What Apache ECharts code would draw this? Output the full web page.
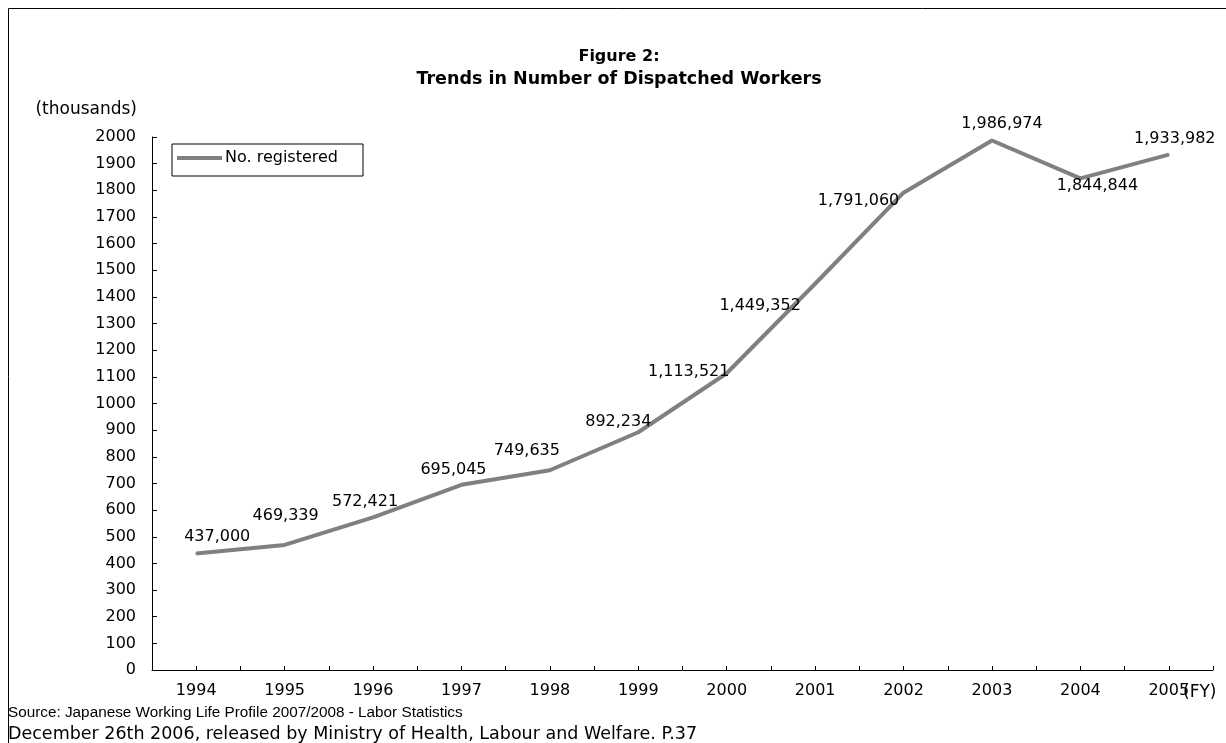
<!DOCTYPE html>
<html>
<head>
<meta charset="utf-8">
<script src="https://cdn.jsdelivr.net/npm/echarts@6/dist/echarts.min.js"></script>
<style>
html,body{margin:0;padding:0;background:#fff;}
#chart{width:1226px;height:743px;}
</style>
</head>
<body>
<div id="chart"></div>
<script>
// ---- data ----
const years = ['1994','1995','1996','1997','1998','1999','2000','2001','2002','2003','2004','2005'];
const registered = [437.000, 469.339, 572.421, 695.045, 749.635, 892.234, 1113.521, 1449.352, 1791.060, 1986.974, 1844.844, 1933.982];
const seriesName = 'No. registered';
const titleLines = ['Figure 2:', 'Trends in Number of Dispatched Workers'];
const yUnit = '(thousands)';
const xUnit = '(FY)';
const sourceLines = [
  'Source: Japanese Working Life Profile 2007/2008 - Labor Statistics',
  'December 26th 2006, released by Ministry of Health, Labour and Welfare. P.37'
];
// label placement (pixel offsets from each point)
const labelOffsets = [[21,-17],[1,-29],[-8,-16],[-8,-15],[-23,-19],[-20,-10],[-38,-1],[-55,22],[-45,8],[10,-17],[17,7],[6,-16]];

const FONT = 'DejaVu Sans';
const chart = echarts.init(document.getElementById('chart'), null, {renderer:'canvas'});
const tickStyle = {show:true, inside:true, length:4, lineStyle:{color:'#000', width:1}};

chart.setOption({
  animation:false,
  backgroundColor:'#fff',
  textStyle:{fontFamily:FONT},
  grid:{left:152, right:13, top:137, bottom:73, containLabel:false},
  legend:{
    data:[seriesName], left:172, top:144,
    orient:'horizontal',
    padding:[6,25,10,5],
    borderColor:'#000', borderWidth:1, borderRadius:0,
    itemWidth:45, itemHeight:4, icon:'rect', itemGap:5,
    textStyle:{fontFamily:FONT, fontSize:16, color:'#000', padding:[0,0,0,-2]}
  },
  xAxis:[{
    type:'category', data:years, boundaryGap:true, position:'bottom',
    axisLine:{show:true, lineStyle:{color:'#000', width:1}},
    axisTick:Object.assign({interval:0, alignWithLabel:false}, tickStyle),
    axisLabel:{interval:0, margin:13, fontFamily:FONT, fontSize:16, color:'#000'},
    splitLine:{show:false}
  },{
    type:'category', data:years, boundaryGap:true, position:'bottom', offset:0,
    axisLine:{show:false},
    axisTick:Object.assign({interval:0, alignWithLabel:true}, tickStyle),
    axisLabel:{show:false},
    splitLine:{show:false}
  }],
  yAxis:{
    type:'value', min:0, max:2000, interval:100,
    axisLine:{show:true, lineStyle:{color:'#000', width:1}},
    axisTick:Object.assign({}, tickStyle, {length:5}),
    axisLabel:{margin:16, fontFamily:FONT, fontSize:16, color:'#000', formatter:v=>String(v)},
    splitLine:{show:false}
  },
  series:[{
    name:seriesName, type:'line', xAxisIndex:0,
    data:registered.map((v,i)=>({value:v, label:{offset:labelOffsets[i]}})),
    symbol:'circle', symbolSize:2, showSymbol:true,
    itemStyle:{color:'#808080'},
    lineStyle:{color:'#808080', width:4},
    label:{
      show:true, position:'inside', fontFamily:FONT, fontSize:16, color:'#000',
      formatter:p=>Math.round(p.value*1000).toLocaleString('en-US')
    },
    emphasis:{disabled:true}
  }],
  graphic:[
    {type:'rect', shape:{x:8.5, y:8.5, width:1240, height:760}, style:{fill:'none', stroke:'#000', lineWidth:1}, silent:true},
    {type:'text', x:619, y:57, style:{text:titleLines[0], font:'bold 16px "DejaVu Sans"', fill:'#000', textAlign:'center', textVerticalAlign:'middle'}},
    {type:'text', x:619, y:79, style:{text:titleLines[1], font:'bold 17.5px "DejaVu Sans"', fill:'#000', textAlign:'center', textVerticalAlign:'middle'}},
    {type:'text', x:137, y:110, style:{text:yUnit, font:'17px "DejaVu Sans"', fill:'#000', textAlign:'right', textVerticalAlign:'middle'}},
    {type:'text', x:1183, y:693, style:{text:xUnit, font:'17px "DejaVu Sans"', fill:'#000', textAlign:'left', textVerticalAlign:'middle'}},
    {type:'text', x:8, y:713, style:{text:sourceLines[0], font:'15.3px "Liberation Sans"', fill:'#000', textAlign:'left', textVerticalAlign:'middle'}},
    {type:'text', x:8, y:734, style:{text:sourceLines[1], font:'17.5px "DejaVu Sans"', fill:'#000', textAlign:'left', textVerticalAlign:'middle'}}
  ]
});
</script>
</body>
</html>
